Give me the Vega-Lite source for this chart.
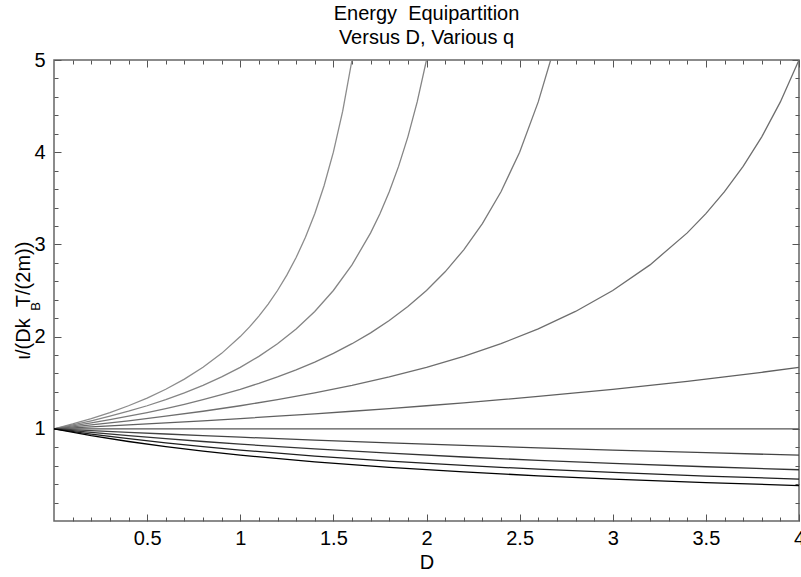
{
  "$schema": "https://vega.github.io/schema/vega-lite/v6.json",
  "width": 745,
  "height": 461,
  "autosize": "none",
  "padding": {"left": 54, "top": 60, "right": 2, "bottom": 56},
  "background": "white",
  "title": {
    "text": ["Energy\u00a0\u00a0Equipartition", "Versus D, Various q"],
    "font": "Liberation Sans",
    "fontSize": 20,
    "fontWeight": "normal",
    "color": "black",
    "anchor": "middle",
    "lineHeight": 24,
    "offset": 2
  },
  "config": {
    "view": {"stroke": "#666666", "strokeWidth": 1.5},
    "font": "Liberation Sans",
    "axis": {
      "domain": false,
      "grid": false,
      "labelFlush": false,
      "tickColor": "#555555",
      "tickWidth": 1,
      "labelFont": "Liberation Sans",
      "labelFontSize": 20,
      "labelColor": "black",
      "titleFont": "Liberation Sans",
      "titleFontSize": 20,
      "titleFontWeight": "normal",
      "titleColor": "black"
    }
  },
  "data": {
    "values": [
      {"q": 1.5, "D": 0, "v": 1}, {"q": 1.5, "D": 0.1, "v": 1.0526}, {"q": 1.5, "D": 0.2, "v": 1.1111}, {"q": 1.5, "D": 0.3, "v": 1.1765}, {"q": 1.5, "D": 0.4, "v": 1.25}, {"q": 1.5, "D": 0.5, "v": 1.3333}, {"q": 1.5, "D": 0.6, "v": 1.4286}, {"q": 1.5, "D": 0.7, "v": 1.5385}, {"q": 1.5, "D": 0.8, "v": 1.6667}, {"q": 1.5, "D": 0.9, "v": 1.8182}, {"q": 1.5, "D": 1.0, "v": 2}, {"q": 1.5, "D": 1.05, "v": 2.1053}, {"q": 1.5, "D": 1.1, "v": 2.2222}, {"q": 1.5, "D": 1.15, "v": 2.3529}, {"q": 1.5, "D": 1.2, "v": 2.5}, {"q": 1.5, "D": 1.25, "v": 2.6667}, {"q": 1.5, "D": 1.3, "v": 2.8571}, {"q": 1.5, "D": 1.35, "v": 3.0769}, {"q": 1.5, "D": 1.4, "v": 3.3333}, {"q": 1.5, "D": 1.45, "v": 3.6364}, {"q": 1.5, "D": 1.5, "v": 4}, {"q": 1.5, "D": 1.55, "v": 4.4444}, {"q": 1.5, "D": 1.6, "v": 5},
      {"q": 1.4, "D": 0, "v": 1}, {"q": 1.4, "D": 0.1, "v": 1.0417}, {"q": 1.4, "D": 0.2, "v": 1.087}, {"q": 1.4, "D": 0.3, "v": 1.1364}, {"q": 1.4, "D": 0.4, "v": 1.1905}, {"q": 1.4, "D": 0.5, "v": 1.25}, {"q": 1.4, "D": 0.6, "v": 1.3158}, {"q": 1.4, "D": 0.7, "v": 1.3889}, {"q": 1.4, "D": 0.8, "v": 1.4706}, {"q": 1.4, "D": 0.9, "v": 1.5625}, {"q": 1.4, "D": 1.0, "v": 1.6667}, {"q": 1.4, "D": 1.1, "v": 1.7857}, {"q": 1.4, "D": 1.2, "v": 1.9231}, {"q": 1.4, "D": 1.3, "v": 2.0833}, {"q": 1.4, "D": 1.4, "v": 2.2727}, {"q": 1.4, "D": 1.5, "v": 2.5}, {"q": 1.4, "D": 1.6, "v": 2.7778}, {"q": 1.4, "D": 1.7, "v": 3.125}, {"q": 1.4, "D": 1.75, "v": 3.3333}, {"q": 1.4, "D": 1.8, "v": 3.5714}, {"q": 1.4, "D": 1.85, "v": 3.8462}, {"q": 1.4, "D": 1.9, "v": 4.1667}, {"q": 1.4, "D": 1.95, "v": 4.5455}, {"q": 1.4, "D": 2.0, "v": 5},
      {"q": 1.3, "D": 0, "v": 1}, {"q": 1.3, "D": 0.1, "v": 1.0309}, {"q": 1.3, "D": 0.2, "v": 1.0638}, {"q": 1.3, "D": 0.3, "v": 1.0989}, {"q": 1.3, "D": 0.4, "v": 1.1364}, {"q": 1.3, "D": 0.5, "v": 1.1765}, {"q": 1.3, "D": 0.6, "v": 1.2195}, {"q": 1.3, "D": 0.7, "v": 1.2658}, {"q": 1.3, "D": 0.8, "v": 1.3158}, {"q": 1.3, "D": 0.9, "v": 1.3699}, {"q": 1.3, "D": 1.0, "v": 1.4286}, {"q": 1.3, "D": 1.1, "v": 1.4925}, {"q": 1.3, "D": 1.2, "v": 1.5625}, {"q": 1.3, "D": 1.3, "v": 1.6393}, {"q": 1.3, "D": 1.4, "v": 1.7241}, {"q": 1.3, "D": 1.5, "v": 1.8182}, {"q": 1.3, "D": 1.6, "v": 1.9231}, {"q": 1.3, "D": 1.7, "v": 2.0408}, {"q": 1.3, "D": 1.8, "v": 2.1739}, {"q": 1.3, "D": 1.9, "v": 2.3256}, {"q": 1.3, "D": 2.0, "v": 2.5}, {"q": 1.3, "D": 2.1, "v": 2.7027}, {"q": 1.3, "D": 2.2, "v": 2.9412}, {"q": 1.3, "D": 2.3, "v": 3.2258}, {"q": 1.3, "D": 2.4, "v": 3.5714}, {"q": 1.3, "D": 2.5, "v": 4}, {"q": 1.3, "D": 2.6, "v": 4.5455}, {"q": 1.3, "D": 2.6667, "v": 5},
      {"q": 1.2, "D": 0, "v": 1}, {"q": 1.2, "D": 0.2, "v": 1.0417}, {"q": 1.2, "D": 0.4, "v": 1.087}, {"q": 1.2, "D": 0.6, "v": 1.1364}, {"q": 1.2, "D": 0.8, "v": 1.1905}, {"q": 1.2, "D": 1.0, "v": 1.25}, {"q": 1.2, "D": 1.2, "v": 1.3158}, {"q": 1.2, "D": 1.4, "v": 1.3889}, {"q": 1.2, "D": 1.6, "v": 1.4706}, {"q": 1.2, "D": 1.8, "v": 1.5625}, {"q": 1.2, "D": 2.0, "v": 1.6667}, {"q": 1.2, "D": 2.2, "v": 1.7857}, {"q": 1.2, "D": 2.4, "v": 1.9231}, {"q": 1.2, "D": 2.6, "v": 2.0833}, {"q": 1.2, "D": 2.8, "v": 2.2727}, {"q": 1.2, "D": 3.0, "v": 2.5}, {"q": 1.2, "D": 3.2, "v": 2.7778}, {"q": 1.2, "D": 3.4, "v": 3.125}, {"q": 1.2, "D": 3.5, "v": 3.3333}, {"q": 1.2, "D": 3.6, "v": 3.5714}, {"q": 1.2, "D": 3.7, "v": 3.8462}, {"q": 1.2, "D": 3.8, "v": 4.1667}, {"q": 1.2, "D": 3.9, "v": 4.5455}, {"q": 1.2, "D": 4.0, "v": 5},
      {"q": 1.1, "D": 0, "v": 1}, {"q": 1.1, "D": 0.2, "v": 1.0204}, {"q": 1.1, "D": 0.4, "v": 1.0417}, {"q": 1.1, "D": 0.6, "v": 1.0638}, {"q": 1.1, "D": 0.8, "v": 1.087}, {"q": 1.1, "D": 1.0, "v": 1.1111}, {"q": 1.1, "D": 1.2, "v": 1.1364}, {"q": 1.1, "D": 1.4, "v": 1.1628}, {"q": 1.1, "D": 1.6, "v": 1.1905}, {"q": 1.1, "D": 1.8, "v": 1.2195}, {"q": 1.1, "D": 2.0, "v": 1.25}, {"q": 1.1, "D": 2.2, "v": 1.2821}, {"q": 1.1, "D": 2.4, "v": 1.3158}, {"q": 1.1, "D": 2.6, "v": 1.3514}, {"q": 1.1, "D": 2.8, "v": 1.3889}, {"q": 1.1, "D": 3.0, "v": 1.4286}, {"q": 1.1, "D": 3.2, "v": 1.4706}, {"q": 1.1, "D": 3.4, "v": 1.5152}, {"q": 1.1, "D": 3.6, "v": 1.5625}, {"q": 1.1, "D": 3.8, "v": 1.6129}, {"q": 1.1, "D": 4.0, "v": 1.6667},
      {"q": 1.0, "D": 0, "v": 1}, {"q": 1.0, "D": 2.0, "v": 1}, {"q": 1.0, "D": 4.0, "v": 1},
      {"q": 0.9, "D": 0, "v": 1}, {"q": 0.9, "D": 0.2, "v": 0.9804}, {"q": 0.9, "D": 0.4, "v": 0.9615}, {"q": 0.9, "D": 0.6, "v": 0.9434}, {"q": 0.9, "D": 0.8, "v": 0.9259}, {"q": 0.9, "D": 1.0, "v": 0.9091}, {"q": 0.9, "D": 1.4, "v": 0.8772}, {"q": 0.9, "D": 1.8, "v": 0.8475}, {"q": 0.9, "D": 2.2, "v": 0.8197}, {"q": 0.9, "D": 2.6, "v": 0.7937}, {"q": 0.9, "D": 3.0, "v": 0.7692}, {"q": 0.9, "D": 3.5, "v": 0.7407}, {"q": 0.9, "D": 4.0, "v": 0.7143},
      {"q": 0.8, "D": 0, "v": 1}, {"q": 0.8, "D": 0.2, "v": 0.9615}, {"q": 0.8, "D": 0.4, "v": 0.9259}, {"q": 0.8, "D": 0.6, "v": 0.8929}, {"q": 0.8, "D": 0.8, "v": 0.8621}, {"q": 0.8, "D": 1.0, "v": 0.8333}, {"q": 0.8, "D": 1.4, "v": 0.7813}, {"q": 0.8, "D": 1.8, "v": 0.7353}, {"q": 0.8, "D": 2.2, "v": 0.6944}, {"q": 0.8, "D": 2.6, "v": 0.6579}, {"q": 0.8, "D": 3.0, "v": 0.625}, {"q": 0.8, "D": 3.5, "v": 0.5882}, {"q": 0.8, "D": 4.0, "v": 0.5556},
      {"q": 0.7, "D": 0, "v": 1}, {"q": 0.7, "D": 0.2, "v": 0.9434}, {"q": 0.7, "D": 0.4, "v": 0.8929}, {"q": 0.7, "D": 0.6, "v": 0.8475}, {"q": 0.7, "D": 0.8, "v": 0.8065}, {"q": 0.7, "D": 1.0, "v": 0.7692}, {"q": 0.7, "D": 1.4, "v": 0.7042}, {"q": 0.7, "D": 1.8, "v": 0.6494}, {"q": 0.7, "D": 2.2, "v": 0.6024}, {"q": 0.7, "D": 2.6, "v": 0.5618}, {"q": 0.7, "D": 3.0, "v": 0.5263}, {"q": 0.7, "D": 3.5, "v": 0.4878}, {"q": 0.7, "D": 4.0, "v": 0.4545},
      {"q": 0.6, "D": 0, "v": 1}, {"q": 0.6, "D": 0.2, "v": 0.9259}, {"q": 0.6, "D": 0.4, "v": 0.8621}, {"q": 0.6, "D": 0.6, "v": 0.8065}, {"q": 0.6, "D": 0.8, "v": 0.7576}, {"q": 0.6, "D": 1.0, "v": 0.7143}, {"q": 0.6, "D": 1.4, "v": 0.641}, {"q": 0.6, "D": 1.8, "v": 0.5814}, {"q": 0.6, "D": 2.2, "v": 0.5319}, {"q": 0.6, "D": 2.6, "v": 0.4902}, {"q": 0.6, "D": 3.0, "v": 0.4545}, {"q": 0.6, "D": 3.5, "v": 0.4167}, {"q": 0.6, "D": 4.0, "v": 0.3846}
    ]
  },
  "resolve": {"axis": {"x": "independent", "y": "independent"}, "scale": {"x": "shared", "y": "shared"}},
  "layer": [
    {
      "mark": {"type": "line", "strokeWidth": 1.3, "clip": true},
      "encoding": {
        "x": {"field": "D", "type": "quantitative", "scale": {"domain": [0, 4], "nice": false, "zero": false},
          "axis": {"orient": "bottom", "values": [0.5, 1, 1.5, 2, 2.5, 3, 3.5, 4], "format": "~g", "tickSize": -7, "labelPadding": 14, "title": "D", "titlePadding": 4}},
        "y": {"field": "v", "type": "quantitative", "scale": {"domain": [0, 5], "nice": false, "zero": false},
          "axis": {"orient": "left", "values": [1, 2, 3, 4, 5], "format": "~g", "tickSize": -7, "labelPadding": 16,
            "title": "ι/(Dk\u00a0\u00a0T/(2m))", "titleX": -31, "titleY": 240, "titleAlign": "center", "titleBaseline": "middle", "titleAngle": -90}},
        "color": {"field": "q", "type": "nominal", "legend": null,
          "scale": {"domain": [1.5, 1.4, 1.3, 1.2, 1.1, 1.0, 0.9, 0.8, 0.7, 0.6],
            "range": ["#8c8c8c", "#858585", "#7a7a7a", "#6e6e6e", "#606060", "#555555", "#444444", "#333333", "#1e1e1e", "#000000"]}}
      }
    },
    {
      "mark": {"type": "line", "opacity": 0},
      "encoding": {
        "x": {"field": "D", "type": "quantitative",
          "axis": {"orient": "bottom", "values": [0.1,0.2,0.3,0.4,0.6,0.7,0.8,0.9,1.1,1.2,1.3,1.4,1.6,1.7,1.8,1.9,2.1,2.2,2.3,2.4,2.6,2.7,2.8,2.9,3.1,3.2,3.3,3.4,3.6,3.7,3.8,3.9], "tickSize": -4, "labels": false, "title": null}},
        "y": {"field": "v", "type": "quantitative",
          "axis": {"orient": "left", "values": [0.2,0.4,0.6,0.8,1.2,1.4,1.6,1.8,2.2,2.4,2.6,2.8,3.2,3.4,3.6,3.8,4.2,4.4,4.6,4.8], "tickSize": -4, "labels": false,
            "title": "B", "titleFontSize": 13, "titleX": -19, "titleY": 246, "titleAlign": "center", "titleBaseline": "middle", "titleAngle": -90}},
        "detail": {"field": "q"}
      }
    },
    {
      "mark": {"type": "line", "opacity": 0},
      "encoding": {
        "x": {"field": "D", "type": "quantitative",
          "axis": {"orient": "top", "values": [0.5, 1, 1.5, 2, 2.5, 3, 3.5, 4], "tickSize": -7, "labels": false, "title": null}},
        "y": {"field": "v", "type": "quantitative",
          "axis": {"orient": "right", "values": [1, 2, 3, 4, 5], "tickSize": -7, "labels": false, "title": null}},
        "detail": {"field": "q"}
      }
    },
    {
      "mark": {"type": "line", "opacity": 0},
      "encoding": {
        "x": {"field": "D", "type": "quantitative",
          "axis": {"orient": "top", "values": [0.1,0.2,0.3,0.4,0.6,0.7,0.8,0.9,1.1,1.2,1.3,1.4,1.6,1.7,1.8,1.9,2.1,2.2,2.3,2.4,2.6,2.7,2.8,2.9,3.1,3.2,3.3,3.4,3.6,3.7,3.8,3.9], "tickSize": -4, "labels": false, "title": null}},
        "y": {"field": "v", "type": "quantitative",
          "axis": {"orient": "right", "values": [0.2,0.4,0.6,0.8,1.2,1.4,1.6,1.8,2.2,2.4,2.6,2.8,3.2,3.4,3.6,3.8,4.2,4.4,4.6,4.8], "tickSize": -4, "labels": false, "title": null}},
        "detail": {"field": "q"}
      }
    }
  ]
}
